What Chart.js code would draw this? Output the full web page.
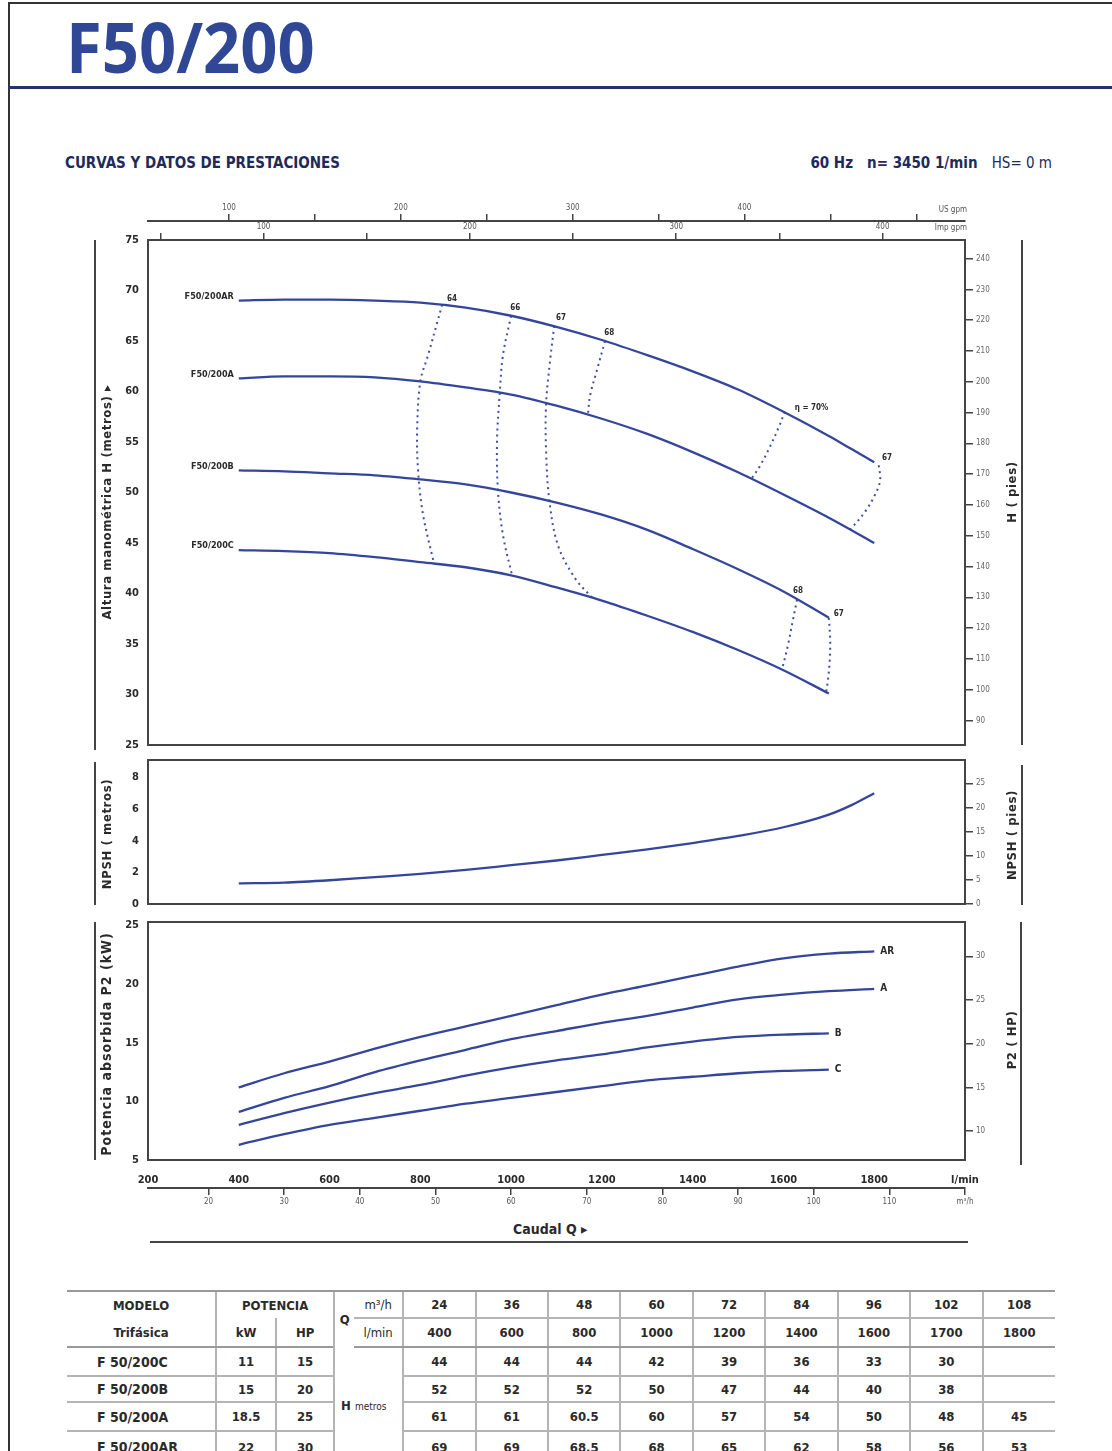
<!DOCTYPE html>
<html>
<head>
<meta charset="utf-8">
<script src="https://cdn.jsdelivr.net/npm/chart.js@4.4.1/dist/chart.umd.min.js"></script>
<style>
  body { margin: 0; width: 1112px; height: 1451px; position: relative; overflow: hidden; background: #fff;
         font-family: "DejaVu Sans Condensed", "Liberation Sans Narrow", Roboto, sans-serif; color: #2a2a2a; }
  .abs { position: absolute; }
  .box { position: absolute; left: 0; width: 1112px; }
  .title { left: 66px; top: 11px; font-family: "Open Sans", sans-serif; font-weight: 700; font-size: 70px; line-height: 1;
           color: #2f4795; transform: scaleX(.93); transform-origin: left top; white-space: nowrap; }
  .sub { top: 154px; font-size: 15px; line-height: 18px; font-weight: bold; color: #1f2a5c; white-space: nowrap; }
  .vt { position: absolute; transform: translate(-50%, -50%) rotate(-90deg); white-space: nowrap; font-weight: bold; font-size: 13px; letter-spacing: .6px; color: #2a2a2a; }
  .vl { position: absolute; width: 2px; background: #444; }
  .unit { position: absolute; font-size: 8px; color: #555; white-space: nowrap; }
  table.tbl { position: absolute; left: 67px; top: 1290px; border-collapse: collapse; table-layout: fixed; width: 988px;
              font-weight: bold; font-size: 13px; color: #2a2a2a; }
  .tbl td, .tbl th { padding: 0; text-align: center; border-left: 2px solid #b4b4b4; font-weight: bold; white-space: nowrap; overflow: hidden; }
  .tbl tr > :first-child { border-left: none; }
  .tbl tr.r1 > * { border-top: 2px solid #999; height: 25px; font-size: 13px; }
  .tbl tr.r2 > * { height: 27px; font-size: 13px; border-bottom: 2px solid #999; }
  .tbl tr.r1 .q1 { border-bottom: 2px solid #b4b4b4; }
  .tbl tr.d > * { border-bottom: 2px solid #b4b4b4; }
  .tbl .mod { text-align: left; padding-left: 30px; font-size: 14px; }
  .tbl .nol { border-left: none; }
  .tbl .small { font-size: 10px; font-weight: normal; }
</style>
</head>
<body>
<div class="abs" style="left:8px;top:2px;width:1104px;height:2px;background:#333"></div>
<div class="abs" style="left:8px;top:2px;width:2px;height:1449px;background:#333"></div>
<div class="abs title">F50/200</div>
<div class="abs" style="left:8px;top:86px;width:1104px;height:3px;background:#26336b"></div>
<div class="abs sub" style="left:65px">CURVAS Y DATOS DE PRESTACIONES</div>
<div class="abs sub" style="right:60px">60 Hz&nbsp;&nbsp; n= 3450 1/min&nbsp;&nbsp; <span style="font-weight:normal">HS= 0 m</span></div>

<div class="box" style="top:190px;height:570px"><canvas id="chartH"></canvas></div>
<div class="box" style="top:752px;height:160px"><canvas id="chartN"></canvas></div>
<div class="box" style="top:912px;height:300px"><canvas id="chartP"></canvas></div>

<div class="unit" style="right:145px;top:205px">US gpm</div>
<div class="unit" style="right:145px;top:223px">Imp gpm</div>

<div class="vl" style="left:94px;top:240px;height:510px"></div>
<div class="vt" style="left:106px;top:502px">Altura manométrica H (metros) ▸</div>
<div class="vl" style="left:1021px;top:240px;height:505px"></div>
<div class="vt" style="left:1011px;top:492px">H ( pies)</div>

<div class="vl" style="left:94px;top:762px;height:143px"></div>
<div class="vt" style="left:106px;top:834px">NPSH ( metros)</div>
<div class="vl" style="left:1021px;top:765px;height:140px"></div>
<div class="vt" style="left:1011px;top:835px">NPSH ( pies)</div>

<div class="vl" style="left:94px;top:922px;height:238px"></div>
<div class="vt" style="left:106px;top:1044px;font-size:14px;letter-spacing:1px">Potencia absorbida P2 (kW)</div>
<div class="vl" style="left:1020px;top:922px;height:243px"></div>
<div class="vt" style="left:1011px;top:1040px">P2 ( HP)</div>

<div class="abs" style="left:513px;top:1221px;font-size:14px;font-weight:bold;white-space:nowrap">Caudal Q ▸</div>
<div class="abs" style="left:150px;top:1241px;width:818px;height:2px;background:#444"></div>

<table class="tbl" id="tbl"></table>

<script>
// ---- curvas H-Q (caudal l/min, altura m)
const qAR = [400, 500, 600, 700, 800, 900, 1000, 1100, 1200, 1300, 1400, 1500, 1600, 1700, 1750, 1800];
const hAR = [69.0, 69.1, 69.1, 69.0, 68.8, 68.3, 67.5, 66.4, 65.1, 63.6, 62.0, 60.2, 58.0, 55.6, 54.3, 53.0];
const qA = [400, 500, 600, 700, 800, 900, 1000, 1100, 1200, 1300, 1400, 1500, 1600, 1700, 1800];
const hA = [61.3, 61.5, 61.5, 61.4, 61.0, 60.4, 59.7, 58.6, 57.3, 55.8, 54.0, 52.0, 49.8, 47.5, 45.0];
const qB = [400, 500, 600, 700, 800, 900, 1000, 1100, 1200, 1300, 1400, 1500, 1600, 1700];
const hB = [52.2, 52.1, 51.9, 51.7, 51.3, 50.8, 50.0, 49.0, 47.8, 46.3, 44.4, 42.4, 40.2, 37.6];
const qC = [400, 500, 600, 700, 800, 900, 1000, 1100, 1200, 1300, 1400, 1500, 1600, 1700];
const hC = [44.3, 44.2, 44.0, 43.6, 43.1, 42.6, 41.8, 40.6, 39.3, 37.8, 36.2, 34.4, 32.4, 30.1];
const curveNames = ['F50/200AR', 'F50/200A', 'F50/200B', 'F50/200C'];

// ---- iso-rendimiento (líneas punteadas)
const eff64Q = [848, 837, 817, 800, 793, 795, 806, 830];
const eff64H = [68.6, 66.8, 63.6, 61.0, 56.2, 52.2, 47.8, 43.0];
const eff66Q = [1000, 982, 975, 969, 971, 982, 1002];
const eff66H = [67.5, 63.6, 59.8, 55.2, 50.2, 45.8, 41.8];
const eff67Q = [1095, 1086, 1077, 1077, 1084, 1103, 1141, 1178];
const eff67H = [66.5, 63.1, 58.7, 54.2, 49.3, 44.8, 41.5, 39.6];
const eff68Q = [1207, 1189, 1174, 1169];
const eff68H = [65.0, 62.1, 59.6, 57.6];
const eff70Q = [1603, 1590, 1570, 1548, 1530];
const eff70H = [58.0, 56.5, 54.5, 52.6, 51.4];
const eff67rQ = [1810, 1813, 1802, 1780, 1747];
const eff67rH = [52.7, 51.2, 49.8, 48.1, 46.3];
const eff68bQ = [1630, 1621, 1610, 1597];
const eff68bH = [39.4, 37.4, 34.9, 32.5];
const eff67bQ = [1700, 1703, 1702, 1698, 1694];
const eff67bH = [37.6, 35.4, 33.4, 31.4, 30.2];
const effLabels = ['64', '66', '67', '68', 'η = 70%', '67', '68', '67'];
const effLabelQ = [859, 998, 1099, 1205, 1625, 1817, 1621, 1711];
const effLabelH = [69.2, 68.3, 67.3, 65.8, 58.4, 53.4, 40.3, 38.0];

// ---- NPSH (m)
const qN = [400, 500, 600, 700, 800, 900, 1000, 1100, 1200, 1300, 1400, 1500, 1600, 1700, 1750, 1800];
const npsh = [1.3, 1.35, 1.5, 1.7, 1.9, 2.15, 2.45, 2.75, 3.1, 3.45, 3.85, 4.3, 4.85, 5.65, 6.25, 7.0];

// ---- potencia absorbida P2 (kW)
const qPAR = [400, 500, 600, 700, 800, 900, 1000, 1100, 1200, 1300, 1400, 1500, 1600, 1700, 1800];
const pAR = [11.2, 12.4, 13.4, 14.5, 15.5, 16.4, 17.3, 18.2, 19.1, 19.9, 20.7, 21.5, 22.2, 22.6, 22.8];
const qPA = [400, 500, 600, 700, 800, 900, 1000, 1100, 1200, 1300, 1400, 1500, 1600, 1700, 1800];
const pA = [9.1, 10.3, 11.3, 12.5, 13.5, 14.4, 15.3, 16.0, 16.7, 17.3, 18.0, 18.7, 19.1, 19.4, 19.6];
const qPB = [400, 500, 600, 700, 800, 900, 1000, 1100, 1200, 1300, 1400, 1500, 1600, 1700];
const pB = [8.0, 9.0, 9.9, 10.7, 11.4, 12.2, 12.9, 13.5, 14.0, 14.6, 15.1, 15.5, 15.7, 15.8];
const qPC = [400, 500, 600, 700, 800, 900, 1000, 1100, 1200, 1300, 1400, 1500, 1600, 1700];
const pC = [6.3, 7.2, 8.0, 8.6, 9.2, 9.8, 10.3, 10.8, 11.3, 11.8, 12.1, 12.4, 12.6, 12.7];
const powerNames = ['AR', 'A', 'B', 'C'];

// ---- tabla
const tModels = ['F 50/200C', 'F 50/200B', 'F 50/200A', 'F 50/200AR'];
const tKW = ['11', '15', '18.5', '22'];
const tHP = ['15', '20', '25', '30'];
const tQm3h = ['24', '36', '48', '60', '72', '84', '96', '102', '108'];
const tQlmin = ['400', '600', '800', '1000', '1200', '1400', '1600', '1700', '1800'];
const tH = [
  ['44', '44', '44', '42', '39', '36', '33', '30', ''],
  ['52', '52', '52', '50', '47', '44', '40', '38', ''],
  ['61', '61', '60.5', '60', '57', '54', '50', '48', '45'],
  ['69', '69', '68.5', '68', '65', '62', '58', '56', '53']
];

const FONT = '"DejaVu Sans Condensed", "Liberation Sans Narrow", Roboto, sans-serif';
const INK = '#2a2a2a';
const BLUE = '#34459c';
const LPM_US = 3.7854, LPM_IMP = 4.5461, FT = 3.2808, HP = 1 / 0.7457;

const pts = (xs, ys) => xs.map((x, i) => ({ x, y: ys[i] }));
const curve = (xs, ys) => ({ data: pts(xs, ys), borderColor: BLUE, borderWidth: 2.3, pointRadius: 0, cubicInterpolationMode: 'monotone' });
const dotted = (xs, ys) => ({ data: pts(xs, ys), borderColor: '#3f4fa6', borderWidth: 2, borderDash: [2, 4], pointRadius: 0, tension: 0.35 });

const frame = {
  id: 'frame',
  beforeDatasetsDraw(chart) {
    const { ctx, chartArea: a } = chart;
    ctx.save();
    ctx.strokeStyle = '#444';
    ctx.lineWidth = 2;
    ctx.strokeRect(a.left, a.top, a.right - a.left, a.bottom - a.top);
    ctx.restore();
  }
};

const textAt = (chart, text, q, v, align, dx, dy, size) => {
  const { ctx, scales } = chart;
  ctx.save();
  ctx.font = 'bold ' + size + 'px ' + FONT;
  ctx.fillStyle = INK;
  ctx.textAlign = align;
  ctx.textBaseline = 'middle';
  ctx.fillText(text, scales.x.getPixelForValue(q) + dx, scales.y.getPixelForValue(v) + dy);
  ctx.restore();
};

const leftY = (min, max, step) => ({
  position: 'left', min, max,
  ticks: { stepSize: step, includeBounds: false, padding: 1, color: INK, font: { family: FONT, size: 11, weight: 'bold' } },
  grid: { display: false }, border: { display: false },
  afterFit: s => { s.width = 148; }
});
const rightY = (min, max, step) => ({
  position: 'right', min, max,
  ticks: { stepSize: step, includeBounds: false, padding: 3, color: '#666', font: { family: FONT, size: 8 } },
  grid: { drawOnChartArea: false, drawTicks: true, tickLength: 8, color: '#444', lineWidth: 1.5 },
  border: { display: false },
  afterFit: s => { s.width = 147; }
});
const hiddenX = { type: 'linear', min: 200, max: 2000, display: false };

const common = (padding, scales) => ({
  animation: false, responsive: true, maintainAspectRatio: false,
  layout: { padding, autoPadding: false },
  plugins: { legend: { display: false }, tooltip: { enabled: false } },
  scales
});

// ---- gráfico H-Q
new Chart(document.getElementById('chartH'), {
  type: 'line',
  data: {
    datasets: [
      curve(qAR, hAR), curve(qA, hA), curve(qB, hB), curve(qC, hC),
      dotted(eff64Q, eff64H), dotted(eff66Q, eff66H), dotted(eff67Q, eff67H), dotted(eff68Q, eff68H),
      dotted(eff70Q, eff70H), dotted(eff67rQ, eff67rH), dotted(eff68bQ, eff68bH), dotted(eff67bQ, eff67bH)
    ]
  },
  options: common({ top: 7, bottom: 15, left: 0, right: 0 }, {
    x: hiddenX,
    us: {
      type: 'linear', position: 'top', weight: 2, min: 200 / LPM_US, max: 2000 / LPM_US,
      ticks: { stepSize: 50, includeBounds: false, autoSkip: false, maxRotation: 0, padding: 1, color: '#555',
               font: { family: FONT, size: 8 }, callback: v => (v % 100 === 0 && v < 500) ? v : '' },
      grid: { drawOnChartArea: false, drawTicks: true, tickLength: 7, color: '#444', lineWidth: 1.5 },
      border: { display: true, color: '#444', width: 2 },
      afterFit: s => { s.height = 24; }
    },
    imp: {
      type: 'linear', position: 'top', weight: 1, min: 200 / LPM_IMP, max: 2000 / LPM_IMP,
      ticks: { stepSize: 50, includeBounds: false, autoSkip: false, maxRotation: 0, padding: 1, color: '#555',
               font: { family: FONT, size: 8 }, callback: v => (v % 100 === 0) ? v : '' },
      grid: { drawOnChartArea: false, drawTicks: true, tickLength: 7, color: '#444', lineWidth: 1.5 },
      border: { display: false },
      afterFit: s => { s.height = 19; }
    },
    y: leftY(25, 75, 5),
    ft: rightY(25 * FT, 75 * FT, 10)
  }),
  plugins: [frame, {
    id: 'hLabels',
    afterDatasetsDraw(chart) {
      [[qAR, hAR], [qA, hA], [qB, hB], [qC, hC]].forEach(([q, h], i) => textAt(chart, curveNames[i], q[0], h[0], 'right', -5, -4, 9));
      effLabels.forEach((t, i) => textAt(chart, t, effLabelQ[i], effLabelH[i], 'left', 0, 0, 8));
    }
  }]
});

// ---- gráfico NPSH
new Chart(document.getElementById('chartN'), {
  type: 'line',
  data: { datasets: [curve(qN, npsh)] },
  options: common({ top: 8, bottom: 8, left: 0, right: 0 }, {
    x: hiddenX,
    y: leftY(0, 9.1, 2),
    ft: rightY(0, 9.1 * FT, 5)
  }),
  plugins: [frame]
});

// ---- gráfico P2
new Chart(document.getElementById('chartP'), {
  type: 'line',
  data: { datasets: [curve(qPAR, pAR), curve(qPA, pA), curve(qPB, pB), curve(qPC, pC)] },
  options: common({ top: 10, bottom: 0, left: 0, right: 0 }, {
    x: {
      type: 'linear', position: 'bottom', weight: 0, min: 200, max: 2000,
      ticks: { stepSize: 200, autoSkip: false, maxRotation: 0, padding: 6, color: INK,
               font: { family: FONT, size: 11, weight: 'bold' }, callback: v => v === 2000 ? 'l/min' : v },
      grid: { display: false }, border: { display: false },
      afterFit: s => { s.height = 28; }
    },
    m3: {
      type: 'linear', position: 'bottom', weight: 1, min: 200 * 0.06, max: 2000 * 0.06,
      ticks: { stepSize: 10, includeBounds: false, autoSkip: false, maxRotation: 0, padding: 2, color: '#555',
               font: { family: FONT, size: 8 }, callback: v => v === 120 ? 'm³/h' : v },
      grid: { drawOnChartArea: false, drawTicks: true, tickLength: 7, color: '#444', lineWidth: 1.5 },
      border: { display: true, color: '#444', width: 2 },
      afterFit: s => { s.height = 24; }
    },
    y: leftY(5, 25.3, 5),
    hp: rightY(5 * HP, 25.3 * HP, 5)
  }),
  plugins: [frame, {
    id: 'pLabels',
    afterDatasetsDraw(chart) {
      [[qPAR, pAR], [qPA, pA], [qPB, pB], [qPC, pC]].forEach(([q, p], i) =>
        textAt(chart, powerNames[i], q[q.length - 1], p[p.length - 1], 'left', 6, 0, 10));
    }
  }]
});

// ---- tabla de prestaciones
const cell = (tag, text, attrs) => '<' + tag + (attrs ? ' ' + attrs : '') + '>' + text + '</' + tag + '>';
let rows = '<colgroup><col style="width:149px"><col style="width:60px"><col style="width:58px"><col style="width:20px"><col style="width:49px">'
  + tQm3h.map(() => '<col style="width:72.4px">').join('') + '</colgroup>';
rows += '<tr class="r1">' + cell('th', 'MODELO') + cell('th', 'POTENCIA', 'colspan="2"') + cell('th', 'Q', 'rowspan="2"')
  + cell('th', 'm³/h', 'class="q1 nol small"') + tQm3h.map(v => cell('td', v, 'class="q1"')).join('') + '</tr>';
rows += '<tr class="r2">' + cell('th', 'Trifásica') + cell('th', 'kW') + cell('th', 'HP')
  + cell('th', 'l/min', 'class="nol small"') + tQlmin.map(v => cell('td', v)).join('') + '</tr>';
tModels.forEach((m, i) => {
  rows += '<tr class="d" style="height:' + [29, 26, 29, 32][i] + 'px">' + cell('td', m, 'class="mod"') + cell('td', tKW[i]) + cell('td', tHP[i])
    + (i === 0 ? cell('td', 'H <span class="small">metros</span>', 'colspan="2" rowspan="4" style="text-align:left;padding-left:6px"') : '')
    + tH[i].map(v => cell('td', v)).join('') + '</tr>';
});
document.getElementById('tbl').innerHTML = rows;
</script>
</body>
</html>
